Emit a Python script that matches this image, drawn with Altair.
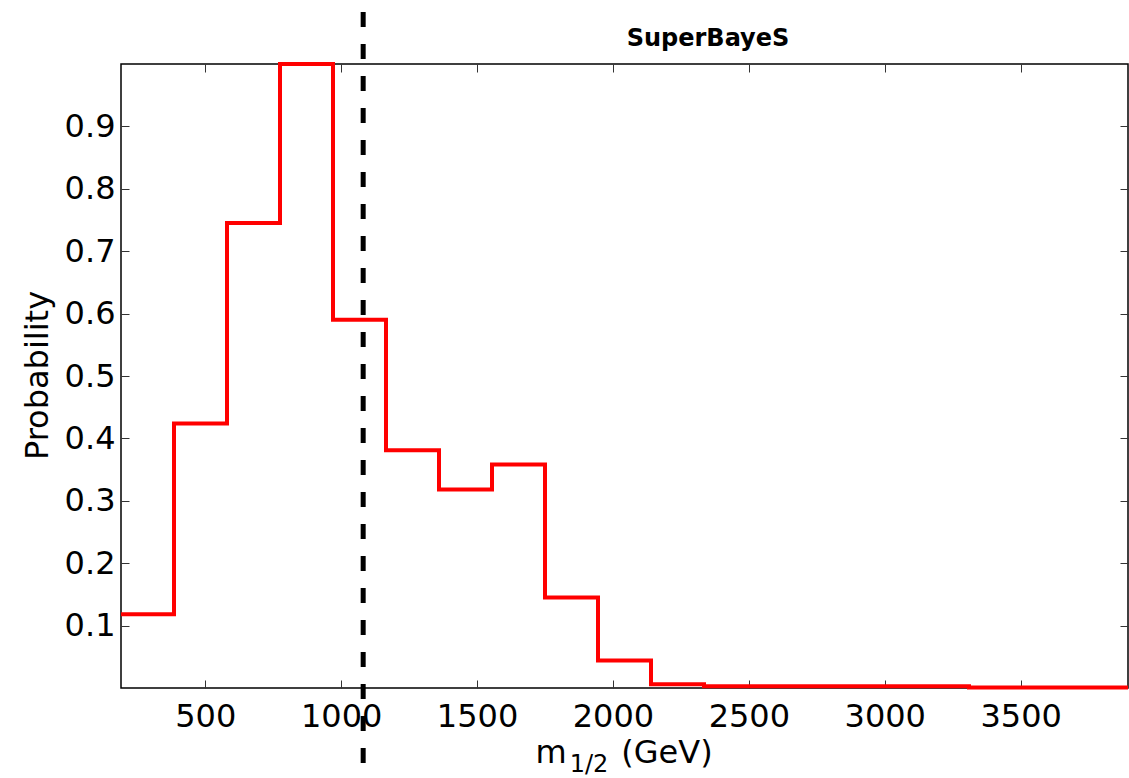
import altair as alt
import pandas as pd

# ---- data ----
bin_edges = [190, 385, 580, 775, 970, 1165, 1360, 1555, 1750, 1945, 2140,
             2335, 2530, 2725, 2920, 3115, 3310, 3505, 3700, 3895]
probabilities = [0.118, 0.424, 0.745, 1.0, 0.59, 0.381, 0.318, 0.358, 0.145,
                 0.044, 0.006, 0.003, 0.003, 0.003, 0.003, 0.003, 0.0008,
                 0.0008, 0.0008]
x_ticks = [500, 1000, 1500, 2000, 2500, 3000, 3500]
y_ticks = [0.1, 0.2, 0.3, 0.4, 0.5, 0.6, 0.7, 0.8, 0.9]
marker_value = [1081]

df = pd.DataFrame({"m": bin_edges, "p": probabilities + [probabilities[-1]]})
marker_df = pd.DataFrame({"m": marker_value})

FONT = "DejaVu Sans"
xscale = alt.Scale(domain=[190, 3895], nice=False, zero=False)
yscale = alt.Scale(domain=[0, 1], nice=False, zero=False)

tick_style = dict(tickSize=8, tickColor="#333", tickWidth=1, domain=False, grid=False)

bottom_axis = alt.Axis(orient="bottom", offset=-8, values=x_ticks, format="d",
                       labelFont=FONT, labelFontSize=32, labelColor="black",
                       labelPadding=13, labelFlush=False, labelOverlap=False,
                       title=None, **tick_style)
top_axis = alt.Axis(orient="top", offset=-8, values=x_ticks, labels=False,
                    title=None, **tick_style)
left_axis = alt.Axis(orient="left", offset=-8, values=y_ticks, format=".1f",
                     labelFont=FONT, labelFontSize=32, labelColor="black",
                     labelPadding=6, labelFlush=False, labelOverlap=False,
                     title="Probability", titleFont=FONT, titleFontSize=32,
                     titleFontWeight="normal", titleColor="black",
                     titleAngle=270, titleAlign="center", titleBaseline="middle",
                     titleX=-92, titleY=311, **tick_style)
right_axis = alt.Axis(orient="right", offset=-8, values=y_ticks, labels=False,
                      title=None, **tick_style)

line = alt.Chart(df).mark_line(
    interpolate="step-after", color="#ff0000", strokeWidth=4
).encode(
    x=alt.X("m:Q", scale=xscale, axis=bottom_axis),
    y=alt.Y("p:Q", scale=yscale, axis=left_axis),
)

frame = alt.Chart(df).mark_line(opacity=0).encode(
    x=alt.X("m:Q", scale=xscale, axis=top_axis),
    y=alt.Y("p:Q", scale=yscale, axis=right_axis),
)

rule = alt.Chart(marker_df).mark_rule(
    color="black", strokeWidth=5, strokeDash=[15, 17]
).encode(
    x=alt.X("m:Q", scale=xscale, axis=None),
    y=alt.value(-52),
    y2=alt.value(701),
)

def label(txt, x, y, size, weight="normal"):
    return alt.Chart(pd.DataFrame({"t": [txt]})).mark_text(
        font=FONT, fontSize=size, fontWeight=weight, color="black",
        align="center", baseline="alphabetic"
    ).encode(text="t:N", x=alt.value(x), y=alt.value(y))

title = label("SuperBayeS", 587, -18, 24, "bold")
xt_m = label("m", 430, 699, 32)
xt_sub = label("1/2", 468, 708, 24)
xt_gev = label("(GeV)", 546, 699, 32)

chart = alt.layer(line, frame, rule, title, xt_m, xt_sub, xt_gev).resolve_axis(
    x="independent", y="independent"
).properties(
    width=1007,
    height=624,
    padding={"left": 121, "top": 64, "right": 1, "bottom": 90},
    autosize=alt.AutoSizeParams(type="none"),
    background="white",
).configure_view(stroke="black", strokeWidth=1.5)

chart.save("out.html", embed_options={"renderer": "svg", "actions": False})
